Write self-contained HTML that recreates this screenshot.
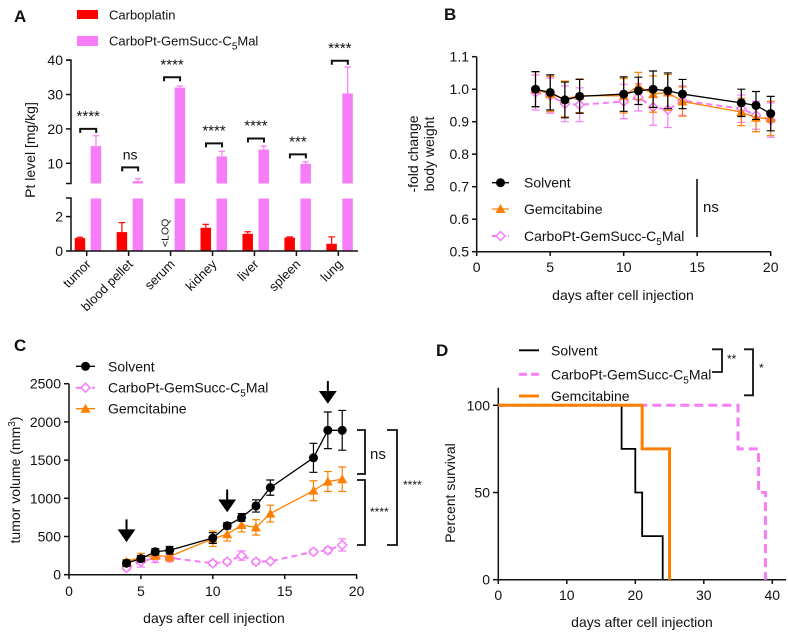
<!DOCTYPE html>
<html><head><meta charset="utf-8"><style>
body{margin:0;background:#fff;}
svg{display:block;font-family:"Liberation Sans",Arial,sans-serif;}
</style></head><body>
<svg id="fig" width="788" height="634" viewBox="0 0 788 634"></svg>
<script>
// ---------- Panel A data ----------
const aCategories=["tumor","blood pellet","serum","kidney","liver","spleen","lung"];
const aCarbo=[0.75,1.1,null,1.35,1.0,0.78,0.42];
const aCarboErr=[0.05,0.55,null,0.2,0.12,0.04,0.4];
const aConj=[15,4.8,32,12,14,9.8,30.3];
const aConjErr=[3,0.7,0.5,1.5,1,0.6,7.7];
const aSig=["****","ns","****","****","****","***","****"];
const aBracketY=[20,8.8,35,15.8,17.2,12.6,39.8];
const aUpperTicks=[10,20,30,40];
const aLowerTicks=[0,2];
// ---------- Panel B data ----------
const bDays=[4,5,6,7,10,11,12,13,14,18,19,20];
const bSolvent=[1.0,0.99,0.967,0.978,0.985,0.995,1.0,0.995,0.985,0.958,0.95,0.925];
const bGem=[1.0,0.985,0.97,0.98,0.98,1.01,0.985,0.99,0.962,0.93,0.912,0.91];
const bConj=[0.99,0.98,0.955,0.952,0.962,0.975,0.945,0.937,0.965,0.94,0.92,0.905];
const bErr=[0.054,0.054,0.055,0.052,0.053,0.042,0.056,0.055,0.045,0.042,0.043,0.053];
const bYTicks=[0.5,0.6,0.7,0.8,0.9,1.0,1.1];
const bXTicks=[0,5,10,15,20];
// ---------- Panel C data ----------
const cDays=[4,5,6,7,10,11,12,13,14,17,18,19];
const cSolvent=[150,210,300,320,480,640,750,900,1140,1530,1890,1890];
const cSolventErr=[40,40,40,50,70,40,50,80,100,190,240,260];
const cGem=[170,230,250,240,470,530,650,620,800,1100,1220,1250];
const cGemErr=[30,50,50,60,100,90,90,100,110,130,130,160];
const cConj=[90,170,220,220,150,170,250,170,175,300,320,390];
const cConjErr=[30,70,60,50,30,30,60,30,20,30,40,80];
const cArrowDays=[4,11,18];
const cYTicks=[0,500,1000,1500,2000,2500];
const cXTicks=[0,5,10,15,20];
// ---------- Panel D data ----------
const dSolventT=[0,18,20,21,24];
const dSolventS=[100,75,50,25,0];
const dGemT=[0,21,25];
const dGemS=[100,75,0];
const dConjT=[0,35,38,39];
const dConjS=[100,75,50,0];
const dXTicks=[0,10,20,30,40];
const dYTicks=[0,50,100];

const svg=document.getElementById('fig');
const NS="http://www.w3.org/2000/svg";
function el(tag,attrs,parent){const e=document.createElementNS(NS,tag);for(const k in attrs)e.setAttribute(k,attrs[k]);(parent||svg).appendChild(e);return e;}
function txt(x,y,s,attrs,parent){const t=el('text',Object.assign({x:x,y:y,'font-size':13,fill:'#111'},attrs||{}),parent);t.textContent=s;return t;}
const RED="#ff0000",PINK="#f77cf7",ORANGE="#ff8000";

// ================= Panel A =================
const gA=el('g',{});


const aL=txt(14,22,"A",{'font-size':17,'font-weight':'bold'},gA);

function aYU(v){return 163.3-(v-10)*3.44;}
function aYL(v){return 251-v*17.2;}
function aY(v){return v>=4.2?aYU(v):aYL(Math.min(v,3.05));}
function aX(i){return 86.7+i*41.94;}
let lg=el('rect',{x:77,y:10,width:21,height:9,fill:RED},gA);

txt(109,19.5,"Carboplatin",{},gA);
lg=el('rect',{x:77,y:36,width:21,height:10,fill:PINK},gA);

let lt=txt(109,45.5,"",{},gA);lt.innerHTML='CarboPt-GemSucc-C<tspan font-size="10" dy="4">5</tspan><tspan dy="-4">Mal</tspan>';

aCategories.forEach((c,i)=>{
  const cx=aX(i);
  if(aCarbo[i]!==null){
    const y=aY(aCarbo[i]);
    const b=el('rect',{x:cx-12,y:y,width:10.5,height:251-y,fill:RED},gA);
    
    const ye=aY(aCarbo[i]+aCarboErr[i]);
    el('line',{x1:cx-6.7,x2:cx-6.7,y1:y,y2:ye,stroke:RED,'stroke-width':1.2},gA);
    el('line',{x1:cx-10,x2:cx-3.5,y1:ye,y2:ye,stroke:RED,'stroke-width':1.2},gA);
  }else{
    const t=txt(0,0,"<LOQ",{'font-size':10.5,transform:`translate(${cx-2},247) rotate(-90)`},gA);
    
  }
  const bl=el('rect',{x:cx+4,y:aYL(3.05),width:10.5,height:251-aYL(3.05),fill:PINK},gA);
  
  const yu=aYU(aConj[i]);
  const bu=el('rect',{x:cx+4,y:yu,width:10.5,height:183.5-yu,fill:PINK},gA);
  
  const ye=aYU(aConj[i]+aConjErr[i]);
  el('line',{x1:cx+9.3,x2:cx+9.3,y1:yu,y2:ye,stroke:PINK,'stroke-width':1.2},gA);
  el('line',{x1:cx+6,x2:cx+12.5,y1:ye,y2:ye,stroke:PINK,'stroke-width':1.2},gA);
  const by=aYU(aBracketY[i]);
  const br=el('path',{d:`M${cx-6.5},${by+4}V${by}H${cx+9.5}V${by+4}`,fill:'none',stroke:'#111','stroke-width':2},gA);
  
  const st=txt(cx+1.5,by-(aSig[i]==='ns'?8:8),aSig[i],{'text-anchor':'middle','font-size':aSig[i]==='ns'?14:15},gA);
  
  el('line',{x1:cx,x2:cx,y1:251,y2:256,stroke:'#111','stroke-width':1.5},gA);
  const cl=txt(0,0,c,{'text-anchor':'end','font-size':13,transform:`translate(${cx+5},265) rotate(-45)`},gA);
  
});
el('path',{d:`M66,${aYU(40)}H71V183.5H66`,fill:'none',stroke:'#111','stroke-width':1.5},gA);
el('path',{d:`M66,198H71V251H358`,fill:'none',stroke:'#111','stroke-width':1.5},gA);
aUpperTicks.forEach(v=>{const y=aYU(v);el('line',{x1:66,x2:71,y1:y,y2:y,stroke:'#111','stroke-width':1.5},gA);txt(63,y+5,String(v),{'text-anchor':'end','font-size':14},gA);});
aLowerTicks.forEach(v=>{const y=aYL(v);el('line',{x1:66,x2:71,y1:y,y2:y,stroke:'#111','stroke-width':1.5},gA);txt(63,y+5,String(v),{'text-anchor':'end','font-size':14},gA);});
const aYT=txt(0,0,"Pt level [mg/kg]",{'text-anchor':'middle','font-size':14,transform:'translate(35,150) rotate(-90)'},gA);


// ================= Panel B =================
const gB=el('g',{});

txt(444,20,"B",{'font-size':17,'font-weight':'bold'},gB);
function bX(d){return 476.7+d*14.7;}
function bY(v){return 251.7-(v-0.5)*325;}
el('path',{d:`M476.7,${bY(1.1)}V251.7H771`,fill:'none',stroke:'#111','stroke-width':1.5},gB);
bYTicks.forEach(v=>{const y=bY(v);el('line',{x1:472,x2:476.7,y1:y,y2:y,stroke:'#111','stroke-width':1.5},gB);txt(469,y+5,v.toFixed(1),{'text-anchor':'end','font-size':14},gB);});
bXTicks.forEach(v=>{const x=bX(v);el('line',{x1:x,x2:x,y1:251.7,y2:256,stroke:'#111','stroke-width':1.5},gB);txt(x,272,String(v),{'text-anchor':'middle','font-size':14},gB);});
txt(623,300,"days after cell injection",{'text-anchor':'middle','font-size':14},gB);
const bYT=txt(0,0,"-fold change",{'text-anchor':'middle','font-size':14,transform:'translate(418,154) rotate(-90)'},gB);

txt(0,0,"body weight",{'text-anchor':'middle','font-size':14,transform:'translate(434,154) rotate(-90)'},gB);
function series(g,days,vals,err,color,dash,marker,name,w){
  days.forEach((d,i)=>{const x=w(d)[0];const y=w(d,vals[i])[1];const y1=w(d,vals[i]+err[i])[1],y2=w(d,vals[i]-err[i])[1];
    el('path',{d:`M${x},${y1}V${y2}M${x-4},${y1}H${x+4}M${x-4},${y2}H${x+4}`,stroke:color,'stroke-width':1.2,fill:'none'},g);});
  const pts=days.map((d,i)=>w(d,vals[i]).join(',')).join(' ');
  const pl=el('polyline',{points:pts,fill:'none',stroke:color,'stroke-width':dash?2:1.3,'stroke-dasharray':dash||'none'},g);
  
  days.forEach((d,i)=>{const [x,y]=w(d,vals[i]);const m=drawMarker(g,x,y,marker,color);
    });
}
function drawMarker(g,x,y,m,color){
  if(m==='circle')return el('circle',{cx:x,cy:y,r:4.5,fill:'#000'},g);
  if(m==='tri')return el('path',{d:`M${x},${y-5}L${x+5},${y+4}L${x-5},${y+4}Z`,fill:color},g);
  return el('path',{d:`M${x},${y-4.5}L${x+4.5},${y}L${x},${y+4.5}L${x-4.5},${y}Z`,fill:'#fff',stroke:color,'stroke-width':1.5},g);
}
const wB=(d,v)=>[bX(d),bY(v===undefined?0.5:v)];
series(gB,bDays,bConj,bErr,PINK,"6,4",'diamond','b-conjugate',wB);
series(gB,bDays,bGem,bErr,ORANGE,null,'tri','b-gemcitabine',wB);
series(gB,bDays,bSolvent,bErr,'#000',null,'circle','b-solvent',wB);
[["Solvent",182.7,'#000','circle',null],["Gemcitabine",209,ORANGE,'tri',null],["CarboPt",236,PINK,'diamond','5,3']].forEach(r=>{
  el('line',{x1:492,x2:509,y1:r[1],y2:r[1],stroke:r[2],'stroke-width':r[4]?2:1.3,'stroke-dasharray':r[4]||'none'},gB);
  drawMarker(gB,500.5,r[1],r[3],r[2]);
  const t=txt(524,r[1]+5,r[0],{'font-size':14},gB);
  if(r[0]==="CarboPt")t.innerHTML='CarboPt-GemSucc-C<tspan font-size="10" dy="4">5</tspan><tspan dy="-4">Mal</tspan>';
  
});
el('line',{x1:697,x2:697,y1:179,y2:237,stroke:'#111','stroke-width':1.6},gB);
txt(703,212,"ns",{'font-size':15},gB);

// ================= Panel C =================
const gC=el('g',{});

txt(14,351,"C",{'font-size':17,'font-weight':'bold'},gC);
function cX(d){return 69+d*14.38;}
function cY(v){return 574.7-v*0.0764;}
el('path',{d:`M69,${cY(2500)}V574.7H357`,fill:'none',stroke:'#111','stroke-width':1.5},gC);
cYTicks.forEach(v=>{const y=cY(v);el('line',{x1:64,x2:69,y1:y,y2:y,stroke:'#111','stroke-width':1.5},gC);txt(61,y+5,String(v),{'text-anchor':'end','font-size':14},gC);});
cXTicks.forEach(v=>{const x=cX(v);el('line',{x1:x,x2:x,y1:574.7,y2:579,stroke:'#111','stroke-width':1.5},gC);txt(x,596,String(v),{'text-anchor':'middle','font-size':14},gC);});
txt(214,623,"days after cell injection",{'text-anchor':'middle','font-size':14},gC);
const cYT=txt(0,0,"",{'text-anchor':'middle','font-size':14,transform:'translate(20,480) rotate(-90)'},gC);
cYT.innerHTML='tumor volume (mm<tspan font-size="10" dy="-5">3</tspan><tspan dy="5">)</tspan>';

const wC=(d,v)=>[cX(d),cY(v===undefined?0:v)];
series(gC,cDays,cConj,cConjErr,PINK,"6,4",'diamond','c-conjugate',wC);
series(gC,cDays,cGem,cGemErr,ORANGE,null,'tri','c-gemcitabine',wC);
series(gC,cDays,cSolvent,cSolventErr,'#000',null,'circle','c-solvent',wC);
cArrowDays.forEach((d,i)=>{
  const x=cX(d);const base=cSolvent[cDays.indexOf(d)];
  const tip=cY(base+(i===2?370:(i===1?200:300)));const top=tip-21;
  const a=el('path',{d:`M${x},${top}V${tip-8}M${x-7},${tip-10}L${x},${tip}L${x+7},${tip-10}Z`,stroke:'#000','stroke-width':2,fill:'#000'},gC);
  
});
[["Solvent",366.3,'#000','circle',null],["CarboPt",387.7,PINK,'diamond','5,3'],["Gemcitabine",408.7,ORANGE,'tri',null]].forEach(r=>{
  el('line',{x1:76,x2:95,y1:r[1],y2:r[1],stroke:r[2],'stroke-width':r[4]?2:1.3,'stroke-dasharray':r[4]||'none'},gC);
  drawMarker(gC,85.5,r[1],r[3],r[2]);
  const t=txt(108,r[1]+5,r[0],{'font-size':14},gC);
  if(r[0]==="CarboPt")t.innerHTML='CarboPt-GemSucc-C<tspan font-size="10" dy="4">5</tspan><tspan dy="-4">Mal</tspan>';
  
});
el('path',{d:'M357,430H365V474H357',fill:'none',stroke:'#111','stroke-width':1.8},gC);
txt(370,459,"ns",{'font-size':15},gC);
el('path',{d:'M357,480H365V545H357',fill:'none',stroke:'#111','stroke-width':1.8},gC);
txt(370,516,"****",{'font-size':12},gC);
el('path',{d:'M387,430H397V545H387',fill:'none',stroke:'#111','stroke-width':1.8},gC);
txt(403,489,"****",{'font-size':12},gC);

// ================= Panel D =================
const gD=el('g',{});

txt(436,356,"D",{'font-size':17,'font-weight':'bold'},gD);
function dX(t){return 498.3+t*6.85;}
function dY(s){return 579.7-s*1.744;}
el('path',{d:`M498.3,387.7V579.7H786`,fill:'none',stroke:'#111','stroke-width':1.5},gD);
dYTicks.forEach(v=>{const y=dY(v);el('line',{x1:493,x2:498.3,y1:y,y2:y,stroke:'#111','stroke-width':1.5},gD);txt(490,y+5,String(v),{'text-anchor':'end','font-size':14},gD);});
dXTicks.forEach(v=>{const x=dX(v);el('line',{x1:x,x2:x,y1:579.7,y2:584,stroke:'#111','stroke-width':1.5},gD);txt(x,600,String(v),{'text-anchor':'middle','font-size':14},gD);});
txt(642,627,"days after cell injection",{'text-anchor':'middle','font-size':14},gD);
const dYT=txt(0,0,"Percent survival",{'text-anchor':'middle','font-size':14,transform:'translate(455,493) rotate(-90)'},gD);

function steps(T,S,color,w,dash,name){
  let d=`M${dX(T[0])},${dY(S[0])}`;
  for(let i=1;i<T.length;i++){d+=`H${dX(T[i])}V${dY(S[i])}`;}
  const p=el('path',{d:d,fill:'none',stroke:color,'stroke-width':w,'stroke-dasharray':dash||'none'},gD);
  
}
steps(dConjT,dConjS,PINK,3,"9,5",'conjugate');
steps(dSolventT,dSolventS,'#000',1.8,null,'solvent');
steps(dGemT,dGemS,ORANGE,3,null,'gemcitabine');
[["Solvent",350.3,'#000',1.8,null],["CarboPt",374.3,PINK,3,'8,4'],["Gemcitabine",396,ORANGE,3,null]].forEach(r=>{
  el('line',{x1:519,x2:539,y1:r[1],y2:r[1],stroke:r[2],'stroke-width':r[3],'stroke-dasharray':r[4]||'none'},gD);
  const t=txt(551,r[1]+5,r[0],{'font-size':14},gD);
  if(r[0]==="CarboPt")t.innerHTML='CarboPt-GemSucc-C<tspan font-size="10" dy="4">5</tspan><tspan dy="-4">Mal</tspan>';
  
});
el('path',{d:'M712,349.3H722V372H712',fill:'none',stroke:'#111','stroke-width':1.8},gD);
txt(727,363,"**",{'font-size':12},gD);
el('path',{d:'M744,349.3H753V395.3H744',fill:'none',stroke:'#111','stroke-width':1.8},gD);
txt(759,372,"*",{'font-size':12},gD);
</script>
</body></html>
